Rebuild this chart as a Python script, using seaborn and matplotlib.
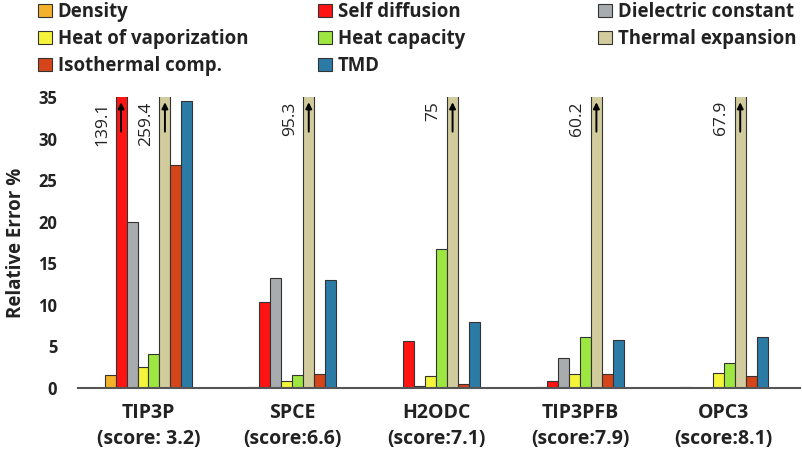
import numpy as np
import pandas as pd
import matplotlib
matplotlib.use('Agg')
import matplotlib.pyplot as plt
import seaborn as sns
from matplotlib.patches import Patch

# data
models = ['TIP3P\n(score: 3.2)', 'SPCE\n(score:6.6)', 'H2ODC\n(score:7.1)',
          'TIP3PFB\n(score:7.9)', 'OPC3\n(score:8.1)']
properties = ['Density', 'Self diffusion', 'Dielectric constant',
              'Heat of vaporization', 'Heat capacity', 'Thermal expansion',
              'Isothermal comp.', 'TMD']
colors = ['#F4B12A', '#FF1414', '#A9ACAF', '#F5F43A',
          '#9EE640', '#D2CB9D', '#D6441A', '#2C7BA6']

density = [1.6, 0.1, 0.05, 0.1, 0.15]
self_diffusion = [139.1, 10.4, 5.7, 0.8, 0.05]
dielectric = [20.0, 13.2, 0.25, 3.6, 0.05]
heat_vap = [2.5, 0.8, 1.5, 1.7, 1.8]
heat_cap = [4.1, 1.6, 16.7, 6.1, 2.95]
thermal_exp = [259.4, 95.3, 75, 60.2, 67.9]
iso_comp = [26.8, 1.7, 0.5, 1.7, 1.45]
tmd = [34.5, 13.0, 7.9, 5.8, 6.1]

series = [density, self_diffusion, dielectric, heat_vap, heat_cap,
          thermal_exp, iso_comp, tmd]
rows = []
for prop, vals in zip(properties, series):
    for m, v in zip(models, vals):
        rows.append({'model': m, 'property': prop, 'value': v})
df = pd.DataFrame(rows)

sns.set_style('white')
plt.rcParams['font.family'] = ['Open Sans', 'DejaVu Sans']

fig = plt.figure(figsize=(8.02, 4.57), dpi=100)
ax = fig.add_axes([78 / 802, 1 - 388 / 457, 722 / 802, 291 / 457])

sns.barplot(data=df, x='model', y='value', hue='property', hue_order=properties,
            palette=colors, saturation=1, width=0.61, edgecolor='#333333',
            linewidth=0.8, legend=False, ax=ax)

ymax = 35
ax.set_ylim(0, ymax)
ax.set_xlim(-0.49, 4.53)
ax.set_yticks(range(0, 36, 5))
ax.set_xlabel('')
ax.set_ylabel('Relative Error %', fontsize=13.5, fontweight='bold', color='#222222', labelpad=9)
ax.tick_params(axis='y', labelsize=12, length=0, pad=15, colors='#222222')
ax.tick_params(axis='x', labelsize=14, length=0, pad=11, colors='#222222')
for lbl in ax.get_yticklabels() + ax.get_xticklabels():
    lbl.set_fontweight('bold')
for t in ax.get_xticklabels():
    t.set_linespacing(1.4)
for s in ['top', 'right', 'left']:
    ax.spines[s].set_visible(False)
ax.spines['bottom'].set_color('#555555')
ax.spines['bottom'].set_linewidth(1.5)

# values that run off the top: label + arrow
for container, vals in zip(ax.containers, series):
    for bar, v in zip(container, vals):
        if v > ymax:
            xc = bar.get_x() + bar.get_width() / 2
            ax.annotate('', xy=(xc, ymax - 0.3), xytext=(xc, 30.5),
                        arrowprops=dict(arrowstyle='-|>', color='black', lw=1.4,
                                        mutation_scale=9))
            ax.annotate(f'{v:g}', xy=(bar.get_x(), ymax - 0.5), xytext=(-4, 0),
                        textcoords='offset points', rotation=90, ha='right', va='top',
                        fontsize=12.5, color='#222222')

# legend in three columns placed like the reference
handles = [Patch(facecolor=c, edgecolor='#333333', linewidth=0.8, label=p)
           for p, c in zip(properties, colors)]
cols = [[0, 3, 6], [1, 4, 7], [2, 5]]
xs = [38, 318, 598]
for idx, x in zip(cols, xs):
    fig.legend(handles=[handles[i] for i in idx], loc='upper left',
               bbox_to_anchor=(x / 802, 1 - 2 / 457), frameon=False,
               borderpad=0, borderaxespad=0, handlelength=0.75, handleheight=0.75,
               handletextpad=0.3, labelspacing=0.38,
               prop={'size': 13.4, 'weight': 'bold'}, labelcolor='#222222')

fig.savefig('out.png', dpi=100)
